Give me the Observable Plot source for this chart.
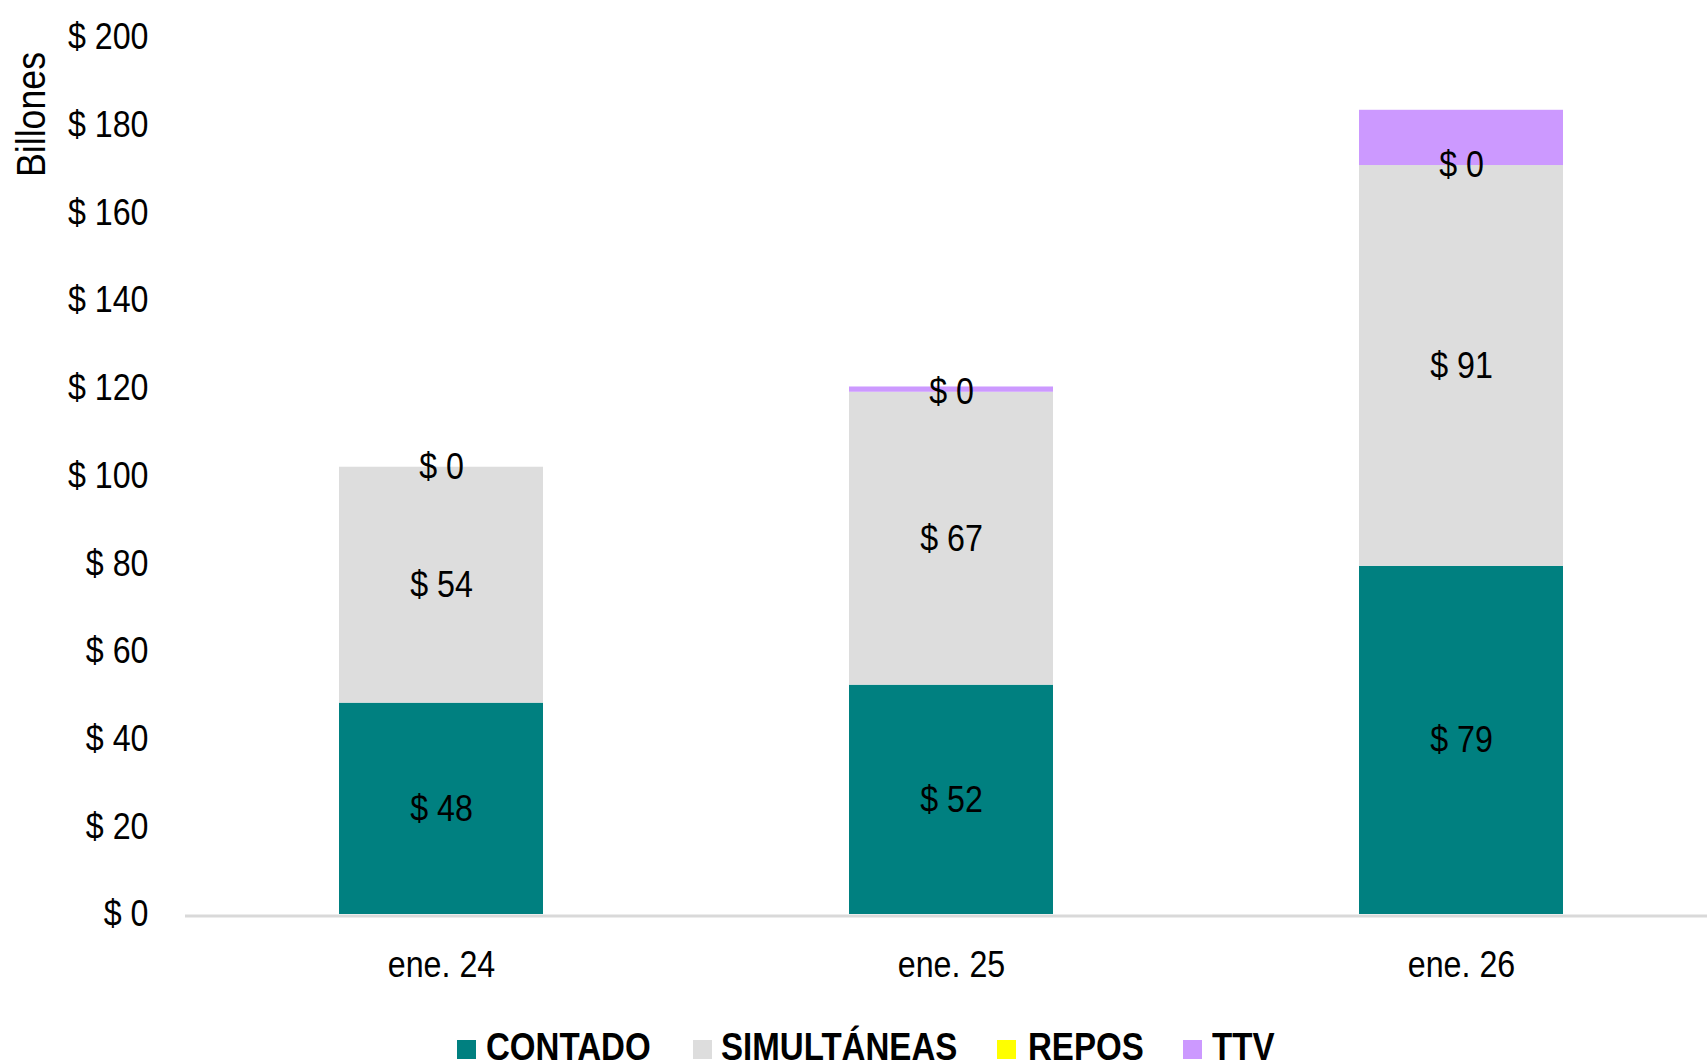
<!DOCTYPE html>
<html>
<head>
<meta charset="utf-8">
<script src="https://cdn.jsdelivr.net/npm/d3@7"></script>
<script src="https://cdn.jsdelivr.net/npm/@observablehq/plot@0.6"></script>
<style>
  html, body { margin: 0; padding: 0; background: #fff; overflow: hidden; }
  body { font-family: "Liberation Sans", Arial, sans-serif; position: relative; width: 1707px; height: 1063px; }
  #legend { position: absolute; left: 0; top: 1025px; width: 1707px; height: 44px; font-weight: bold; font-size: 38px; color: #000; }
  .sw { position: absolute; width: 19px; height: 19px; top: 15px; }
  .lt { position: absolute; top: 0; line-height: 44px; white-space: nowrap; transform-origin: 0 50%; }
</style>
</head>
<body>
<div id="chart"></div>
<div id="legend"></div>
<script>
const categories = ["ene. 24", "ene. 25", "ene. 26"];
const seriesNames = ["CONTADO", "SIMULTÁNEAS", "REPOS", "TTV"];
const seriesColors = ["#008080", "#DDDDDD", "#FFFF00", "#CC99FF"];
const contado = [48.2, 52.3, 79.4];
const simultaneas = [53.8, 66.8, 91.4];
const repos = [0, 0, 0];
const ttv = [0, 1.2, 12.6];
const yTicks = [0, 20, 40, 60, 80, 100, 120, 140, 160, 180, 200];
const labeledSeries = ["CONTADO", "SIMULTÁNEAS", "REPOS"];

const seriesValues = [contado, simultaneas, repos, ttv];
const data = [];
categories.forEach((c, i) => {
  seriesNames.forEach((s, j) => data.push({ date: c, series: s, value: seriesValues[j][i] }));
});

const font = '"Liberation Sans", Arial, sans-serif';
const narrow = 0.87;

const chart = Plot.plot({
  width: 1707,
  height: 1025,
  marginLeft: 185,
  marginRight: 0,
  marginTop: 37,
  marginBottom: 111,
  style: { fontFamily: font, fontSize: "37px", color: "#000", background: "#fff" },
  x: { domain: categories, range: [185, 1717], paddingInner: 0.6, paddingOuter: 0.3, label: null },
  y: { domain: [0, 200], label: null },
  color: { domain: seriesNames, range: seriesColors },
  marks: [
    Plot.axisY({ ticks: yTicks, tickSize: 0, tickPadding: 37, tickFormat: d => "$ " + d, fontSize: 37, label: null }),
    Plot.axisX({ tickSize: 0, tickPadding: 36, fontSize: 37, label: null }),
    Plot.ruleY([0], { stroke: "#d9d9d9", strokeWidth: 3, dy: 1.5 }),
    Plot.barY(data, Plot.stackY({ x: "date", y: "value", z: "series", fill: "series", order: seriesNames })),
    Plot.text(data, Plot.stackY({
      x: "date", y: "value", z: "series", order: seriesNames,
      text: d => labeledSeries.includes(d.series) ? "$ " + Math.round(d.value) : "",
      fontSize: 37, fill: "#000"
    })),
    Plot.text(["Billones"], { frameAnchor: "top-left", textAnchor: "middle", lineAnchor: "middle", rotate: -90, dx: -154, dy: 77, fontSize: 41, fill: "#000" })
  ]
});
document.getElementById("chart").appendChild(chart);

// condense text to mimic a narrow typeface
chart.querySelectorAll("text").forEach(t => {
  if (!t.textContent) return;
  const len = t.getComputedTextLength();
  if (len > 0) {
    t.setAttribute("textLength", (len * narrow).toFixed(2));
    t.setAttribute("lengthAdjust", "spacingAndGlyphs");
  }
});

const legend = document.getElementById("legend");
const swatchX = [457, 693, 997, 1183];
const textX = [486, 721, 1028, 1212];
seriesNames.forEach((s, j) => {
  const sw = document.createElement("div");
  sw.className = "sw";
  sw.style.left = swatchX[j] + "px";
  sw.style.background = seriesColors[j];
  const t = document.createElement("div");
  t.className = "lt";
  t.style.left = textX[j] + "px";
  t.style.transform = "scaleX(" + narrow + ")";
  t.textContent = s;
  legend.appendChild(sw);
  legend.appendChild(t);
});
</script>
</body>
</html>
